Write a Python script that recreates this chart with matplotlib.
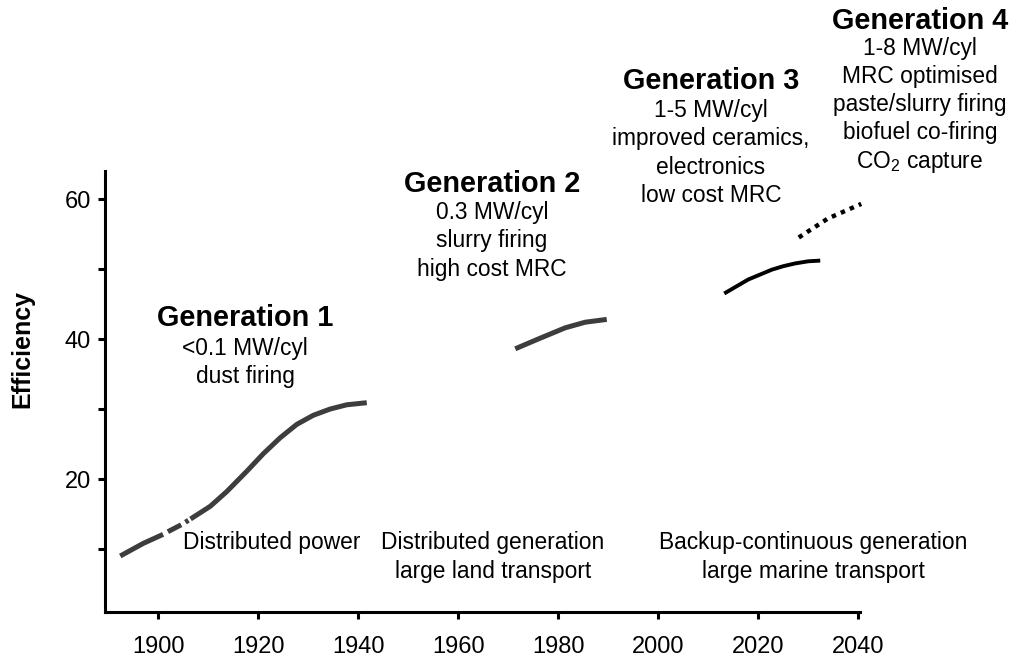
import matplotlib
matplotlib.use("Agg")
import matplotlib.pyplot as plt

plt.rcParams['font.family'] = ['Liberation Sans', 'DejaVu Sans']
plt.rcParams['mathtext.fontset'] = 'custom'
plt.rcParams['mathtext.rm'] = 'Liberation Sans'
plt.rcParams['mathtext.it'] = 'Liberation Sans:italic'

# Efficiency trend per engine generation (year, efficiency %)
gen1_year = [1892.4, 1897.0, 1901.0, 1902.0, 1904.7, 1906.7, 1910.4, 1913.7, 1917.7,
             1921.0, 1924.4, 1927.7, 1931.0, 1934.4, 1937.7, 1941.7]
gen1_eff = [9.0, 10.8, 12.1, 12.5, 13.5, 14.4, 16.1, 18.2, 21.1,
            23.6, 25.9, 27.8, 29.1, 30.0, 30.6, 30.9]
gen2_year = [1971.4, 1976.0, 1981.4, 1985.4, 1989.7]
gen2_eff = [38.6, 40.0, 41.6, 42.4, 42.8]
gen3_year = [2013.2, 2018.0, 2022.7, 2025.0, 2027.4, 2030.0, 2032.4]
gen3_eff = [46.5, 48.5, 49.9, 50.4, 50.8, 51.1, 51.2]
gen4_year = [2028.1, 2033.9, 2040.6]
gen4_eff = [54.5, 57.2, 59.3]

x_ticks = [1900, 1920, 1940, 1960, 1980, 2000, 2020, 2040]
y_ticks = [10, 20, 30, 40, 50, 60]
y_labels = ['', '20', '', '40', '', '60']

titles = ['Generation 1', 'Generation 2', 'Generation 3', 'Generation 4']
details = [
    '<0.1 MW/cyl\ndust firing',
    '0.3 MW/cyl\nslurry firing\nhigh cost MRC',
    '1-5 MW/cyl\nimproved ceramics,\nelectronics\nlow cost MRC',
    '1-8 MW/cyl\nMRC optimised\npaste/slurry firing\nbiofuel co-firing\nCO$_2$ capture',
]
markets = [
    'Distributed power',
    'Distributed generation\nlarge land transport',
    'Backup-continuous generation\nlarge marine transport',
]

W, H = 1015, 661
fig = plt.figure(figsize=(W / 100, H / 100), dpi=100)
ax = fig.add_axes([105 / W, 1 - 612 / H, 755 / W, 441 / H])


def fx(px):
    return px / W


def fy(py):
    return 1 - py / H


grey = '#3d3d3d'
ax.plot(gen1_year, gen1_eff, color=grey, lw=3.6, solid_capstyle='butt',
        dash_capstyle='butt', linestyle=(0, (9.6, 1.1, 3.0, 1.0, 0.7, 0.5, 300, 1)))
ax.plot(gen2_year, gen2_eff, color=grey, lw=3.6, solid_capstyle='butt')
ax.plot(gen3_year, gen3_eff, color='black', lw=2.8, solid_capstyle='butt')
ax.plot(gen4_year, gen4_eff, color='black', lw=3.2, clip_on=False,
        dash_capstyle='butt', linestyle=(0, (1, 1.2)))

ax.set_xlim(1889.35, 2040.35)
ax.set_ylim(1.0, 64.0)
ax.set_xticks(x_ticks)
ax.set_yticks(y_ticks)
ax.set_yticklabels(y_labels)
ax.tick_params(axis='both', labelsize=17, width=2.2, length=5, direction='out')
ax.tick_params(axis='x', pad=12)
ax.tick_params(axis='y', pad=5)
for side in ['top', 'right']:
    ax.spines[side].set_visible(False)
for side in ['left', 'bottom']:
    ax.spines[side].set_linewidth(2.2)
fig.text(fx(22.5), fy(349), 'Efficiency', rotation=90, ha='center', va='center',
         fontsize=18, fontweight='bold')

# generation headings and specs (pixel centres)
title_xy = [(245, 318), (492, 184), (711, 81), (920, 21)]
detail_y = [362.5, 241, 153, 106]
for (x, y), dy, t, d in zip(title_xy, detail_y, titles, details):
    fig.text(fx(x), fy(y), t, ha='center', va='center', fontsize=20.8,
             fontweight='bold')
    fig.text(fx(x), fy(dy), d, ha='center', va='center', fontsize=16.4,
             linespacing=1.28)

market_xy = [(272, 543), (493, 557), (813, 557)]
for (x, y), m in zip(market_xy, markets):
    fig.text(fx(x), fy(y), m, ha='center', va='center', fontsize=16.4,
             linespacing=1.3)

fig.savefig('out.png', dpi=100)
